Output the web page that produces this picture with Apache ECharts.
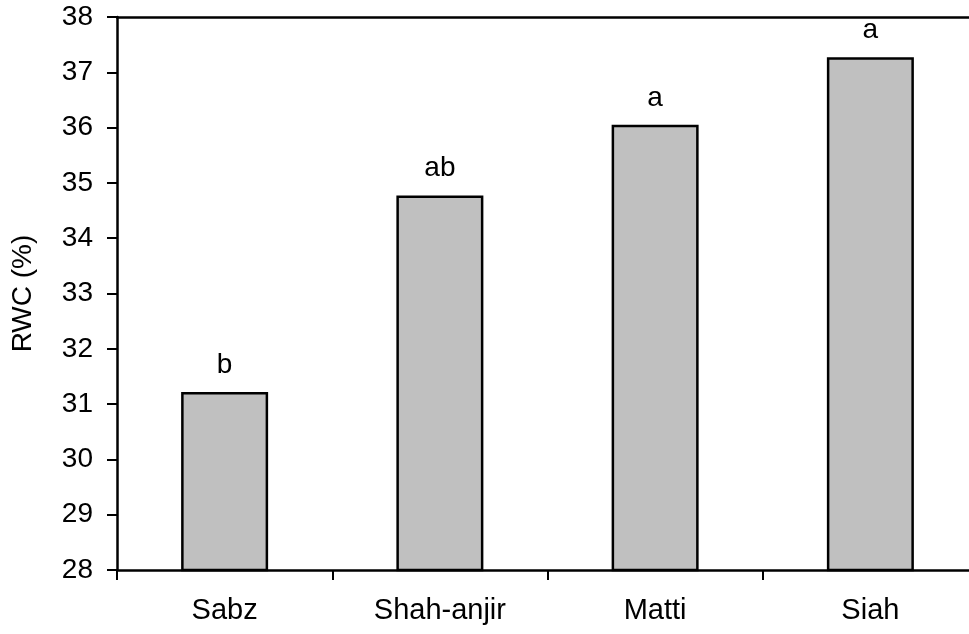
<!DOCTYPE html>
<html>
<head>
<meta charset="utf-8">
<script src="https://cdn.jsdelivr.net/npm/echarts@6/dist/echarts.min.js"></script>
<style>
  html, body { margin: 0; padding: 0; background: #fff; }
  #chart { width: 969px; height: 634px; }
</style>
</head>
<body>
<div id="chart"></div>
<script>
// Relative water content per cultivar, with significance letters
const cultivars = ['Sabz', 'Shah-anjir', 'Matti', 'Siah'];
const rwc = [31.22, 34.77, 36.05, 37.27];
const letters = ['b', 'ab', 'a', 'a'];
const yTicks = [28, 29, 30, 31, 32, 33, 34, 35, 36, 37, 38];

const FONT = '"Liberation Sans", Arial, sans-serif';
const chart = echarts.init(document.getElementById('chart'), null, { renderer: 'canvas' });

chart.setOption({
  animation: false,
  backgroundColor: '#ffffff',
  textStyle: { fontFamily: FONT },
  // plot area runs slightly past the right edge of the canvas
  grid: { left: 117, width: 861, top: 17, height: 553, containLabel: false, outerBoundsMode: 'none' },
  xAxis: [
    {
      type: 'category',
      data: cultivars,
      boundaryGap: true,
      axisLine: { lineStyle: { color: '#000', width: 2.5 } },
      axisTick: { show: true, alignWithLabel: false, length: 10, lineStyle: { color: '#000', width: 2 } },
      axisLabel: { color: '#000', fontSize: 29, fontFamily: FONT, margin: 26 }
    },
    {
      type: 'category',
      position: 'top',
      data: cultivars,
      axisLine: { lineStyle: { color: '#000', width: 2.5 } },
      axisTick: { show: false },
      axisLabel: { show: false }
    }
  ],
  yAxis: {
    type: 'value',
    min: yTicks[0],
    max: yTicks[yTicks.length - 1],
    interval: 1,
    name: 'RWC (%)',
    nameLocation: 'middle',
    nameGap: 80,
    nameTextStyle: { color: '#000', fontSize: 28, fontFamily: FONT },
    splitLine: { show: false },
    axisLine: { show: true, lineStyle: { color: '#000', width: 2.5 } },
    axisTick: { show: true, length: 10, lineStyle: { color: '#000', width: 2 } },
    axisLabel: { color: '#000', fontSize: 28, fontFamily: FONT, margin: 24 }
  },
  series: [
    {
      type: 'bar',
      data: rwc,
      barWidth: 87,
      itemStyle: { color: '#c0c0c0', borderColor: '#000', borderWidth: 2.5 },
      label: {
        show: true,
        position: 'top',
        distance: 13,
        color: '#000',
        fontSize: 28,
        fontFamily: FONT,
        formatter: (p) => letters[p.dataIndex]
      }
    }
  ]
});
</script>
</body>
</html>
